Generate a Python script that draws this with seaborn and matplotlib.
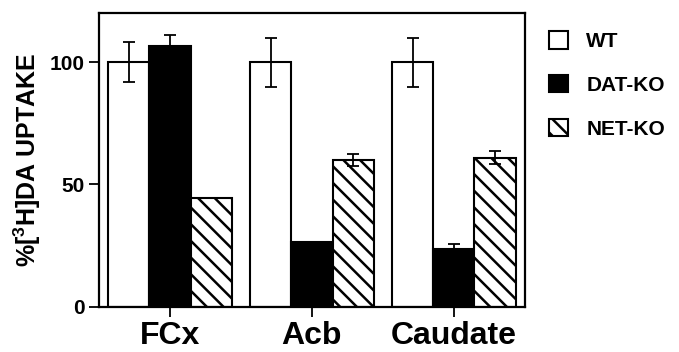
"""
[3H]DA uptake por região e genótipo (WT, DAT-KO, NET-KO)
- barras agrupadas com seaborn, hachura no NET-KO, barras de erro manuais
"""
import numpy as np
import pandas as pd
import seaborn as sns
import matplotlib.pyplot as plt

# === Dados ===
REGIONS   = ["FCx", "Acb", "Caudate"]
GENOTYPES = ["WT", "DAT-KO", "NET-KO"]

WT_MEAN  = [100, 100, 100]
DAT_MEAN = [106.5, 26.5, 23.7]
NET_MEAN = [44.5, 60, 61]

WT_ERR  = [8, 10, 10]
DAT_ERR = [4.5, 0, 2]
NET_ERR = [0, 2.5, 2.5]

Y_TICKS = [0, 50, 100]

# === Tabela longa para o seaborn ===
rows = []
for g, means, errs in zip(GENOTYPES, [WT_MEAN, DAT_MEAN, NET_MEAN], [WT_ERR, DAT_ERR, NET_ERR]):
    for r, m, e in zip(REGIONS, means, errs):
        rows.append({"region": r, "genotype": g, "uptake": m, "err": e})
df = pd.DataFrame(rows)

sns.set_style("ticks")
plt.rcParams["font.family"] = ["Liberation Sans", "DejaVu Sans"]
plt.rcParams["font.weight"] = "bold"
plt.rcParams["hatch.linewidth"] = 1.8
plt.rcParams["mathtext.fontset"] = "custom"
plt.rcParams["mathtext.bf"] = "Liberation Sans:bold"
plt.rcParams["mathtext.rm"] = "Liberation Sans:bold"
for k in ["text.color", "axes.labelcolor", "xtick.color", "ytick.color", "axes.edgecolor"]:
    plt.rcParams[k] = "black"

fig = plt.figure(figsize=(6.79, 3.52), dpi=100)
ax = fig.add_axes([0.1458, 0.128, 0.6272, 0.835])

palette = {"WT": "white", "DAT-KO": "black", "NET-KO": "white"}
sns.barplot(data=df, x="region", y="uptake", hue="genotype", order=REGIONS,
            hue_order=GENOTYPES, palette=palette, edgecolor="black",
            linewidth=1.5, width=0.87, errorbar=None, legend=False, ax=ax)
bar_containers = list(ax.containers)

# hachura para NET-KO
hatches = {"WT": "", "DAT-KO": "", "NET-KO": "\\\\"}
for cont, g in zip(bar_containers, GENOTYPES):
    for p in cont.patches:
        p.set_hatch(hatches[g])

# barras de erro
for cont, g in zip(bar_containers, GENOTYPES):
    sub = df[df.genotype == g].set_index("region").loc[REGIONS]
    for p, m, e in zip(cont.patches, sub.uptake, sub.err):
        if e <= 0:
            continue
        xc = p.get_x() + p.get_width() / 2
        ax.errorbar(xc, m, yerr=e, fmt="none", ecolor="black",
                    elinewidth=1.3, capsize=4.5, capthick=1.3, zorder=5)

ax.set_xlim(-0.5, 2.5)
ax.set_ylim(0, 120)
ax.set_yticks(Y_TICKS)
ax.set_yticklabels([str(t) for t in Y_TICKS], fontsize=15, fontweight="bold")
ax.set_xticks(range(len(REGIONS)))
ax.set_xticklabels(REGIONS, fontsize=23, fontweight="bold")
ax.set_xlabel("")
ax.set_ylabel(r"%[$\mathbf{^{3}}$H]DA UPTAKE", fontsize=18, fontweight="bold", labelpad=5)

for s in ax.spines.values():
    s.set_linewidth(1.6)
    s.set_visible(True)
ax.tick_params(axis="y", direction="out", length=7, width=1.3, pad=3)
ax.tick_params(axis="x", direction="out", length=7, width=1.3, pad=3)

# legenda fora do eixo
handles = [cont.patches[0] for cont in bar_containers]
fig.legend(handles, GENOTYPES, loc="upper left", bbox_to_anchor=(0.796, 0.935),
           frameon=False, handlelength=0.9, handleheight=0.9,
           handletextpad=0.9, labelspacing=1.15, borderaxespad=0,
           prop={"weight": "bold", "size": 15})

fig.savefig("out.png", dpi=100)
